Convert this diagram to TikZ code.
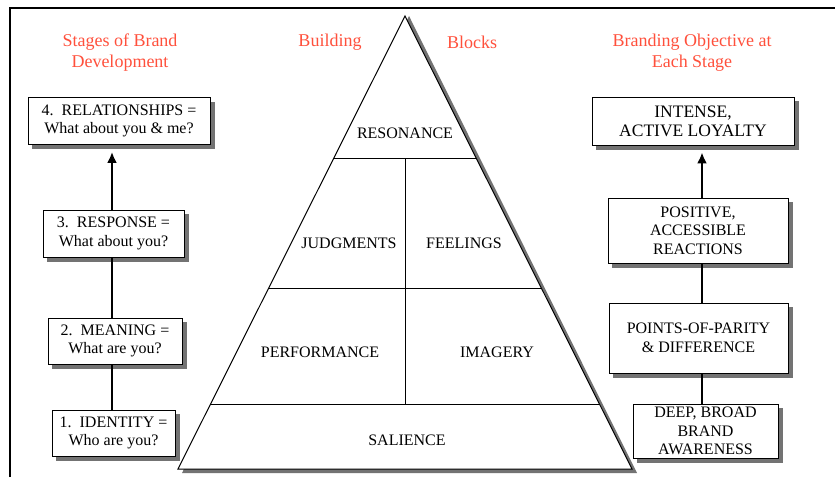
\documentclass[tikz,border=0pt]{standalone}
\usepackage{fontspec}
\setmainfont{Liberation Serif}
\usetikzlibrary{arrows.meta,backgrounds}
\definecolor{titlered}{RGB}{255,80,60}
\definecolor{shadowgray}{RGB}{115,115,115}
\tikzset{
    box/.style ={
        rectangle,              % plain box
        draw = black,           % border colour
        fill = white,           % covers the spine
        line width = 0.8pt,     % border width
        align = center,         % two or three lines
        inner sep = 2pt,        % text to border
        font = \fontsize{16}{18.5}\selectfont
    },
    heading/.style ={
        text  = titlered,       % red headings
        align = center,
        font  = \fontsize{18}{21}\selectfont
    },
    block/.style ={
        font = \fontsize{16}{18}\selectfont
    },
    spine/.style ={
        line width = 2.5pt      % thick stem
    }
}

\begin{document}
\begin{tikzpicture}[x=1pt, y=-1pt]
    \useasboundingbox (0,0) rectangle (835,477);
    \draw[line width=1.5pt] (10,477) -- (10,8) -- (835,8);

    % headings
    \node[heading] at(120,52.5) {Stages of Brand\\Development};
    \node[heading] at(330,42) {Building};
    \node[heading] at(472,42) {Blocks};
    \node[heading] at(692,52.5) {Branding Objective at\\Each Stage};

    % pyramid
    \fill[fill=shadowgray] (409,16) -- (637,473) -- (182,473) -- cycle;
    \filldraw[fill=white, line width=1pt] (405,16) -- (632,469) -- (178,469) -- cycle;
    \draw[line width=1pt] (334,158) -- (476,158);
    \draw[line width=1pt] (269,288) -- (541,288);
    \draw[line width=1pt] (211,404) -- (599,404);
    \draw[line width=1pt] (405,158) -- (405,404);
    \node[block] (resonance)   at(405,133) {RESONANCE};
    \node[block] (judgments)   at(349,243) {JUDGMENTS};
    \node[block] (feelings)    at(464,243) {FEELINGS};
    \node[block] (performance) at(320,352) {PERFORMANCE};
    \node[block] (imagery)     at(497,352) {IMAGERY};
    \node[block] (salience)    at(407,440) {SALIENCE};

    % stages of brand development
    \coordinate (lspine) at(112,0);
    \node[box, minimum width=182pt, minimum height=47pt] (stage4) at(119,121)
        {4.\ \ RELATIONSHIPS =\\What about you \& me?};
    \node[box, minimum width=141pt, minimum height=47pt] (stage3) at(113.5,233.5)
        {3.\ \ RESPONSE =\\What about you?};
    \node[box, minimum width=134pt, minimum height=46pt] (stage2) at(115,341)
        {2.\ \ MEANING =\\What are you?};
    \node[box, minimum width=123pt, minimum height=46pt] (stage1) at(113.5,433)
        {1.\ \ IDENTITY =\\Who are you?};

    % branding objective at each stage
    \coordinate (rspine) at(702,0);
    \node[box, minimum width=202pt, minimum height=48pt,
        font=\fontsize{17.5}{19}\selectfont] (goal4) at(693,121)
        {INTENSE,\\ACTIVE LOYALTY};
    \node[box, minimum width=180pt, minimum height=65pt] (goal3) at(698,230.5)
        {POSITIVE,\\ACCESSIBLE\\REACTIONS};
    \node[box, minimum width=179pt, minimum height=70pt] (goal2) at(698.5,338)
        {POINTS-OF-PARITY\\\& DIFFERENCE};
    \node[box, minimum width=145pt, minimum height=54pt] (goal1) at(705.5,431)
        {DEEP, BROAD\\BRAND\\AWARENESS};

    % shadows and stems behind the boxes
    \begin{scope}[on background layer]
        \foreach \b in {stage1,stage2,stage3,stage4,goal1,goal2,goal3,goal4}
            \fill[fill=shadowgray] ([xshift=4.5pt,yshift=-4.5pt]\b.south west)
                rectangle ([xshift=4.5pt,yshift=-4.5pt]\b.north east);
        \draw[spine] (stage1.north -| lspine) -- (stage2.south -| lspine);
        \draw[spine] (stage2.north -| lspine) -- (stage3.south -| lspine);
        \draw[spine] (goal1.north -| rspine) -- (goal2.south -| rspine);
        \draw[spine] (goal2.north -| rspine) -- (goal3.south -| rspine);
    \end{scope}
    \draw[spine, -{Latex[length=11pt,width=10pt]}, shorten >=7pt]
        (stage3.north -| lspine) -- (stage4.south -| lspine);
    \draw[spine, -{Latex[length=11pt,width=10pt]}, shorten >=7pt]
        (goal3.north -| rspine) -- (goal4.south -| rspine);
\end{tikzpicture}
\end{document}
